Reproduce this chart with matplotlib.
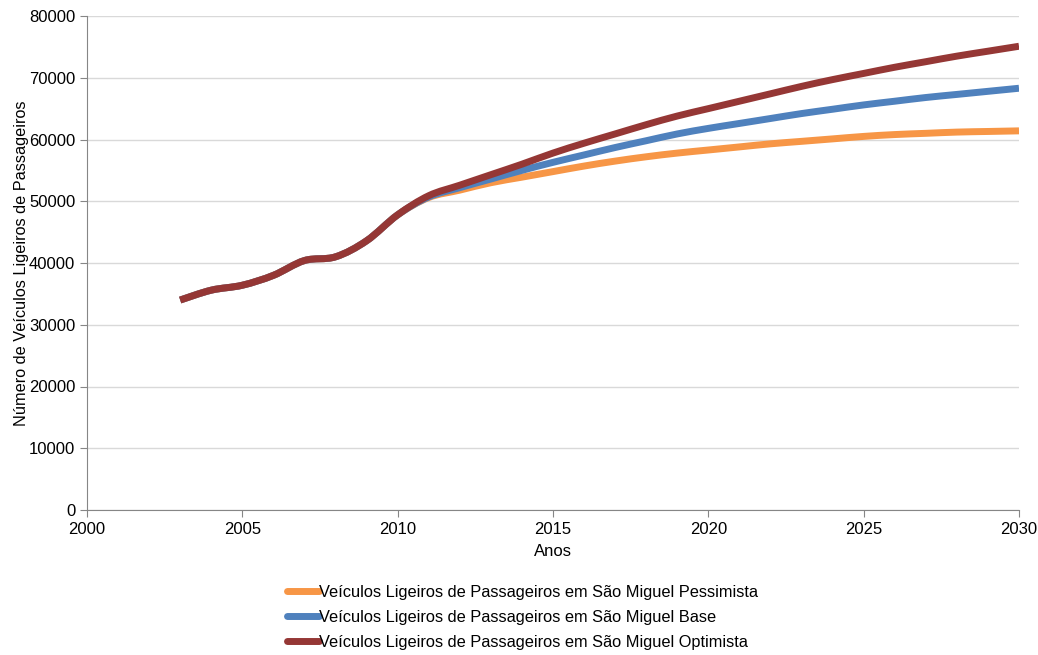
import numpy as np
import matplotlib
matplotlib.use("Agg")
import matplotlib.pyplot as plt
from matplotlib.path import Path
from matplotlib.patches import PathPatch
from matplotlib.lines import Line2D

plt.rcParams['font.family'] = ['Liberation Sans', 'DejaVu Sans']

# data (thousands of vehicles)
years = list(range(2003, 2031))
historico = [34.0, 35.6, 36.4, 38.0, 40.4, 41.0, 43.6, 47.8, 50.7]
pessimista = historico[:-1] + [50.6, 51.8, 53.0, 53.9, 54.8, 55.7, 56.5, 57.2, 57.8, 58.3,
                               58.8, 59.3, 59.7, 60.1, 60.5, 60.8, 61.0, 61.2, 61.3, 61.4]
base = historico + [52.2, 53.6, 55.0, 56.3, 57.5, 58.7, 59.8, 60.9, 61.8,
                    62.6, 63.4, 64.2, 64.9, 65.6, 66.2, 66.8, 67.3, 67.8, 68.3]
optimista = historico[:-1] + [50.9, 52.6, 54.3, 56.0, 57.8, 59.4, 60.9, 62.4, 63.8, 65.0,
                              66.2, 67.4, 68.6, 69.7, 70.7, 71.7, 72.6, 73.5, 74.3, 75.1]

series = [
    ("Veículos Ligeiros de Passageiros em São Miguel Pessimista", pessimista, "#F79646"),
    ("Veículos Ligeiros de Passageiros em São Miguel Base", base, "#4F81BD"),
    ("Veículos Ligeiros de Passageiros em São Miguel Optimista", optimista, "#953735"),
]


def smooth_path(x, y):
    """Excel-like smoothed line: Catmull-Rom segments as cubic Beziers"""
    pts = np.column_stack([x, y]).astype(float)
    n = len(pts)
    verts = [pts[0]]
    codes = [Path.MOVETO]
    for i in range(n - 1):
        p0 = pts[max(i - 1, 0)]
        p1 = pts[i]
        p2 = pts[i + 1]
        p3 = pts[min(i + 2, n - 1)]
        verts += [p1 + (p2 - p0) / 6, p2 - (p3 - p1) / 6, p2]
        codes += [Path.CURVE4] * 3
    return Path(verts, codes)


fig = plt.figure(figsize=(10.38, 6.55), dpi=100)
ax = fig.add_axes([87 / 1038, 1 - 510 / 655, (1019 - 87) / 1038, (510 - 16) / 655])

handles = []
for label, values, color in series:
    vals = np.array(values) * 1000
    patch = PathPatch(smooth_path(years, vals), fill=False, edgecolor=color,
                      linewidth=5, capstyle='butt', joinstyle='round', zorder=3)
    ax.add_patch(patch)
    handles.append(Line2D([], [], color=color, linewidth=5, solid_capstyle='round', label=label))

ax.set_xlim(2000, 2030)
ax.set_ylim(0, 80000)
ax.set_xticks(range(2000, 2031, 5))
ax.set_yticks(range(0, 80001, 10000))
ax.grid(True, axis='y', color='#d9d9d9', linewidth=1)
ax.set_axisbelow(True)
for side in ['top', 'right']:
    ax.spines[side].set_visible(False)
for side in ['left', 'bottom']:
    ax.spines[side].set_color('#868686')
ax.tick_params(colors='#868686', labelcolor='black', labelsize=12, length=5)

ax.set_xlabel("Anos", fontsize=12, labelpad=5)
ax.set_ylabel("Número de Veículos Ligeiros de Passageiros", fontsize=11.7, labelpad=0)

fig.legend(handles=handles, loc='upper left', bbox_to_anchor=(280 / 1038, 1 - 578 / 655),
           frameon=False, fontsize=11.8, handlelength=2.0, handletextpad=0.0,
           labelspacing=0.62, borderaxespad=0)

fig.savefig("out.png", dpi=100)
